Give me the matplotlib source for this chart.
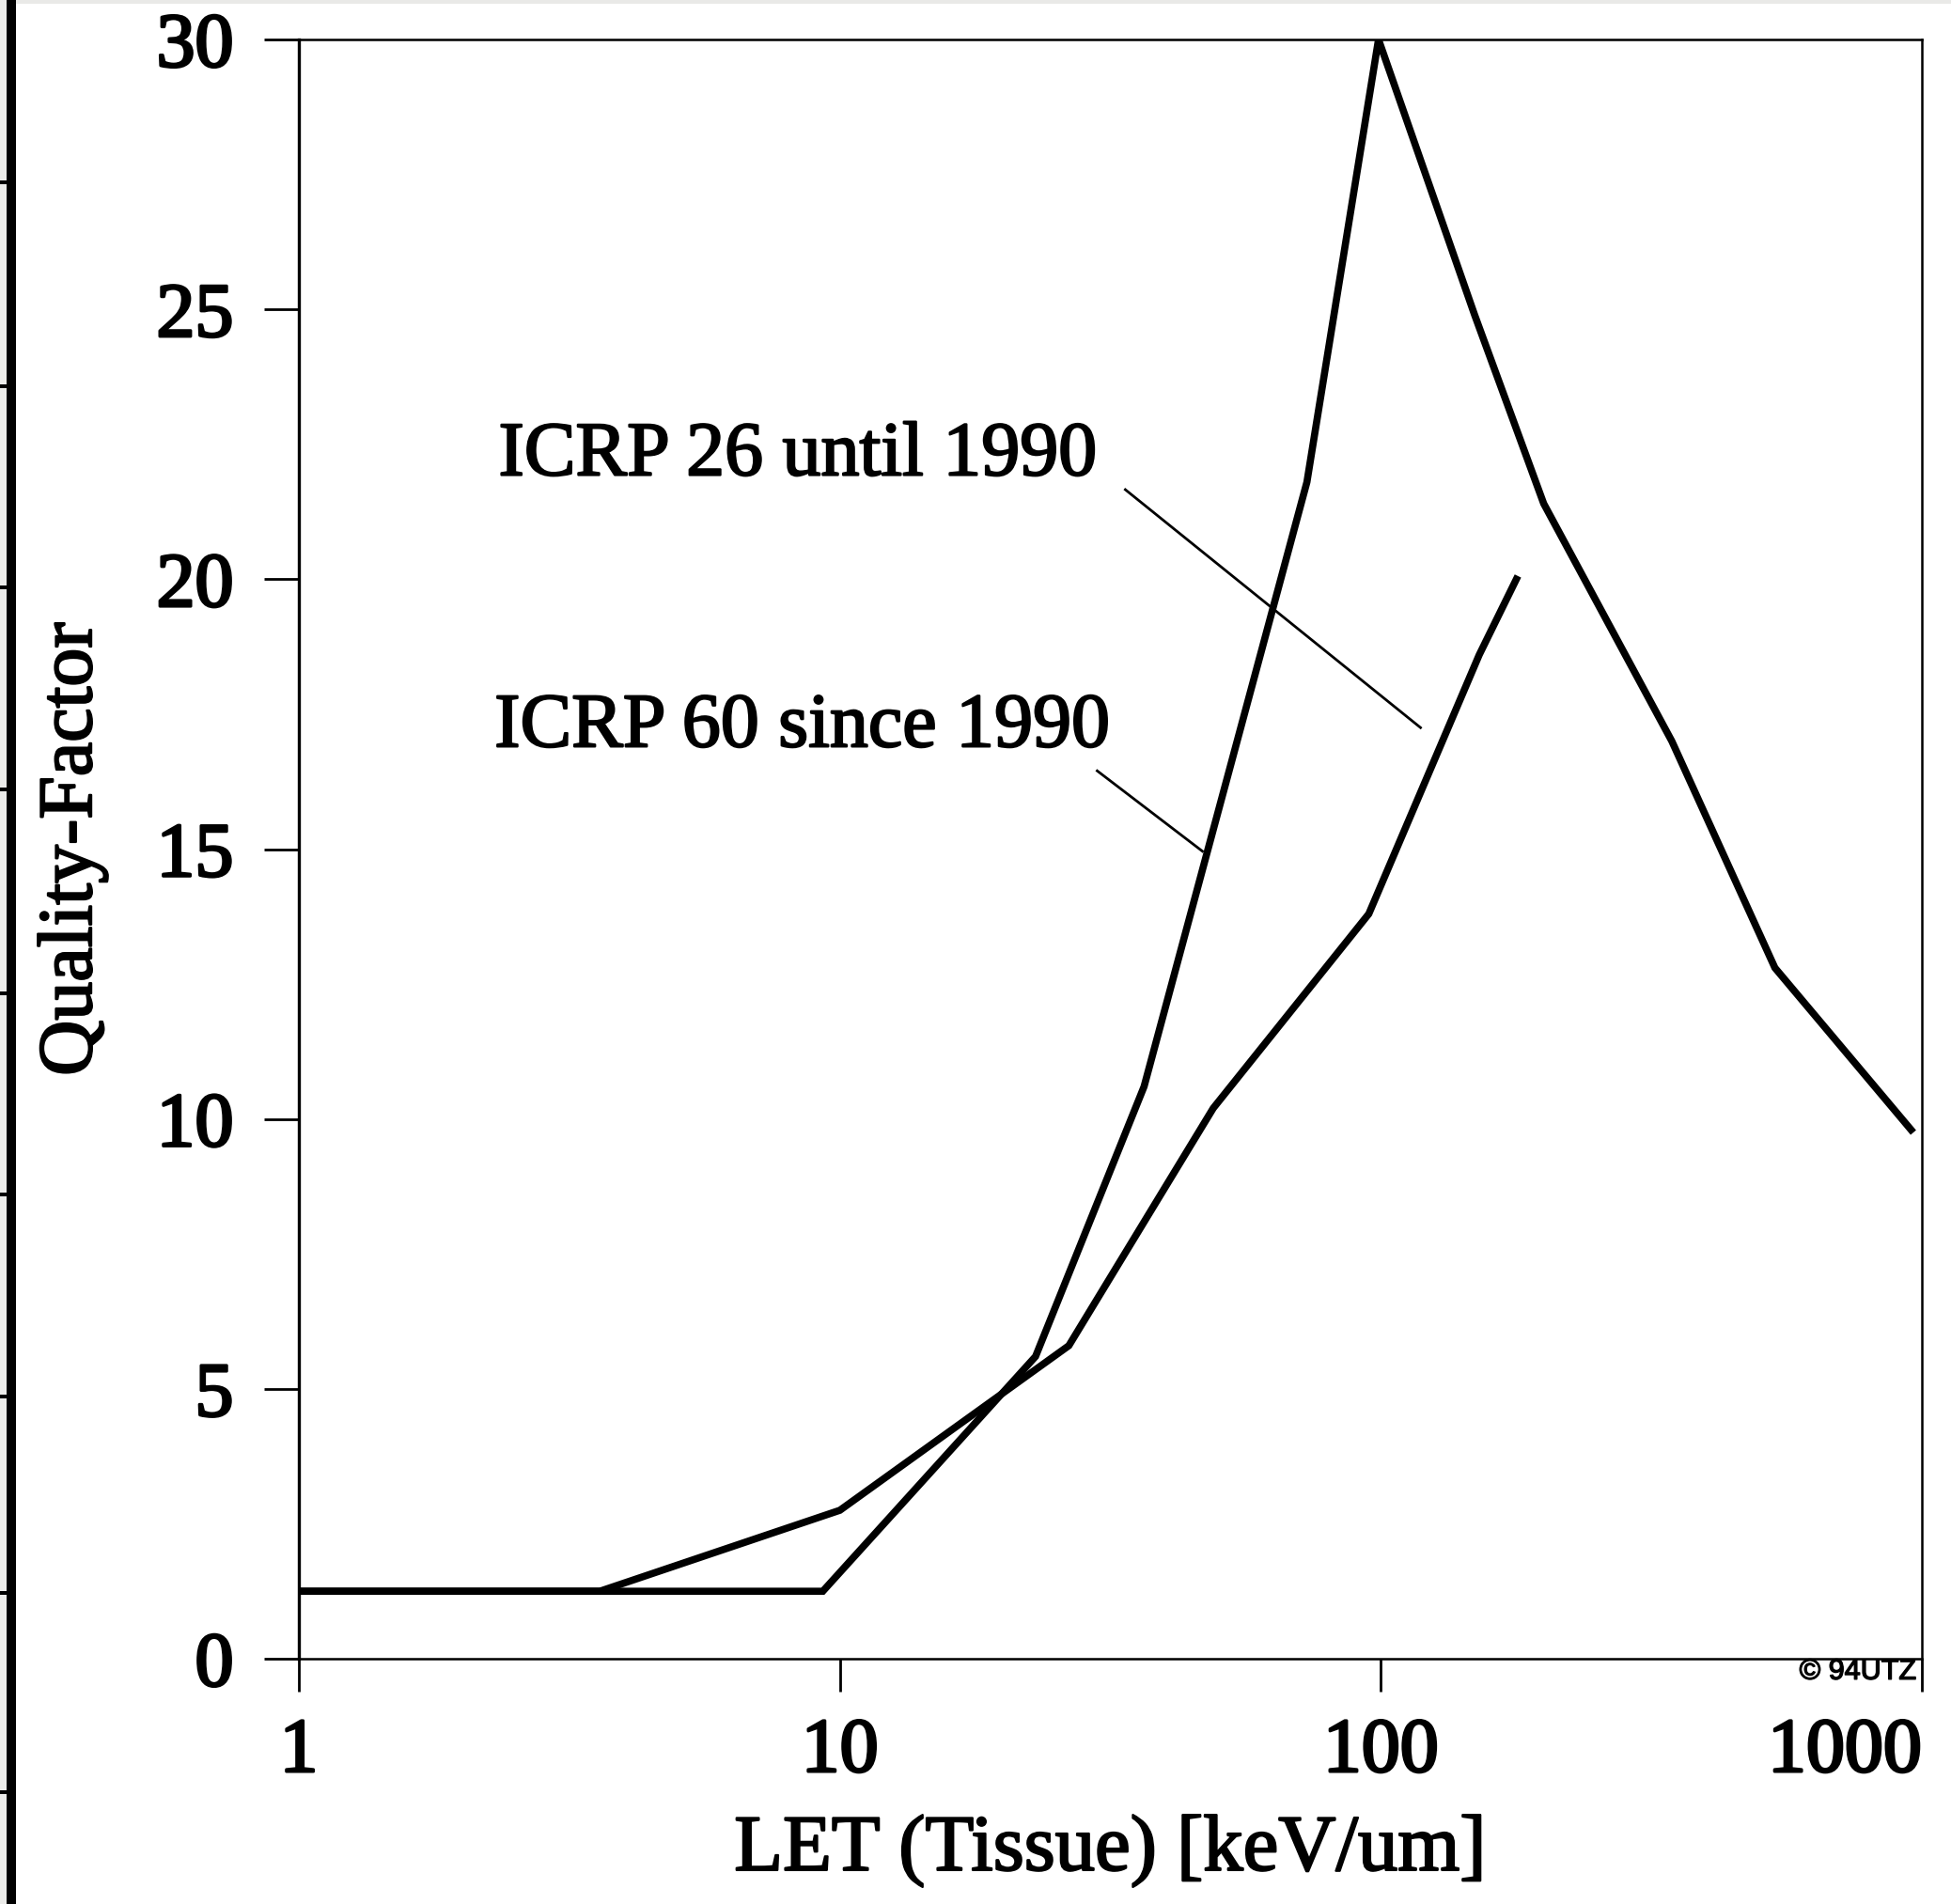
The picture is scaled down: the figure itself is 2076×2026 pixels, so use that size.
import numpy as np
import matplotlib.pyplot as plt
import matplotlib.patheffects as pe
from matplotlib.patches import Rectangle

# LET values [keV/um] and quality factors
let_icrp26 = [1, 3.6, 10, 26.5, 49, 95, 152, 178]
q_icrp26 = [1.25, 1.25, 2.75, 5.8, 10.2, 13.8, 18.6, 20.0]

let_icrp60 = [1, 9.3, 23, 36.5, 73, 99, 149, 200, 345, 535, 955]
q_icrp60 = [1.25, 1.25, 5.6, 10.6, 21.8, 30.0, 24.9, 21.4, 17.0, 12.8, 9.8]

x_ticks = [1, 10, 100, 1000]
x_ticklabels = ['1', '10', '100', '1000']
y_ticks = [0, 5, 10, 15, 20, 25, 30]

# label text and leader line ends (data coords)
label_26 = 'ICRP 26 until 1990'
label_60 = 'ICRP 60 since 1990'
label_26_pos = (2.34, 21.93)
label_60_pos = (2.30, 16.9)
leader_26 = ([33.7, 118.4], [21.66, 17.25])
leader_60 = ([29.9, 46.8], [16.45, 14.96])

plt.rcParams['font.family'] = ['Liberation Serif', 'DejaVu Serif']

W, H = 2076, 2026
fig = plt.figure(figsize=(W / 100, H / 100), dpi=100)
fig.patch.set_facecolor('white')

x0, x1 = 318, 2045
y0, y1 = 1765, 42
ax = fig.add_axes([x0 / W, 1 - y0 / H, (x1 - x0) / W, (y0 - y1) / H])

ax.plot(let_icrp26, q_icrp26, color='black', lw=5.5, solid_joinstyle='miter')
ax.plot(let_icrp60, q_icrp60, color='black', lw=5.5, solid_joinstyle='miter')

ax.plot(*leader_26, color='black', lw=2)
ax.plot(*leader_60, color='black', lw=2)

fs = 59
heavy = [pe.withStroke(linewidth=1.6, foreground='black')]
ax.text(*label_26_pos, label_26, fontsize=fs, ha='left', va='baseline', path_effects=heavy)
ax.text(*label_60_pos, label_60, fontsize=fs, ha='left', va='baseline', path_effects=heavy)

ax.set_xscale('log')
ax.set_xlim(1, 1000)
ax.set_ylim(0, 30)
ax.set_xticks(x_ticks)
ax.set_xticklabels(x_ticklabels)
ax.xaxis.set_minor_locator(plt.NullLocator())
ax.set_yticks(y_ticks)

ax.tick_params(axis='x', direction='out', length=25, width=2, pad=20, labelsize=fs)
ax.tick_params(axis='y', direction='out', length=27, width=2, pad=23, labelsize=fs)
for lab in ax.get_xticklabels() + ax.get_yticklabels():
    lab.set_path_effects([pe.withStroke(linewidth=2.2, foreground='black')])
ax.get_xticklabels()[-1].set_horizontalalignment('right')

for sp in ax.spines.values():
    sp.set_linewidth(1.8)
ax.spines['left'].set_linewidth(2.4)

ax.set_xlabel('LET (Tissue) [keV/um]', fontsize=61, path_effects=heavy)
ax.set_ylabel('Quality-Factor', fontsize=fs, path_effects=heavy)
ax.xaxis.set_label_coords(0.5, -0.096)
ax.yaxis.set_label_coords(-0.1175, 0.5)

ax.text(0.9965, -0.008, '\u00a9 94UTZ', transform=ax.transAxes, fontsize=22,
        family=['Liberation Sans Narrow', 'Liberation Sans', 'DejaVu Sans'],
        ha='right', va='center', path_effects=[pe.withStroke(linewidth=1, foreground='black')])

# scan border on the left and top
fig.add_artist(Rectangle((0, 0), 7 / W, 1, transform=fig.transFigure,
                         color='#ebebe9', lw=0))
fig.add_artist(Rectangle((17 / W, 1 - 4 / H), 1, 4 / H, transform=fig.transFigure,
                         color='#e9e9e7', lw=0))
fig.add_artist(Rectangle((7 / W, 0), 10 / W, 1, transform=fig.transFigure,
                         color='black', lw=0))
for ty in [194, 411, 625, 840, 1057, 1271, 1486, 1695, 1907]:
    fig.add_artist(Rectangle((0, 1 - (ty + 2) / H), 8 / W, 4 / H,
                             transform=fig.transFigure, color='black', lw=0))

fig.savefig('out.png', dpi=100, facecolor='white')
